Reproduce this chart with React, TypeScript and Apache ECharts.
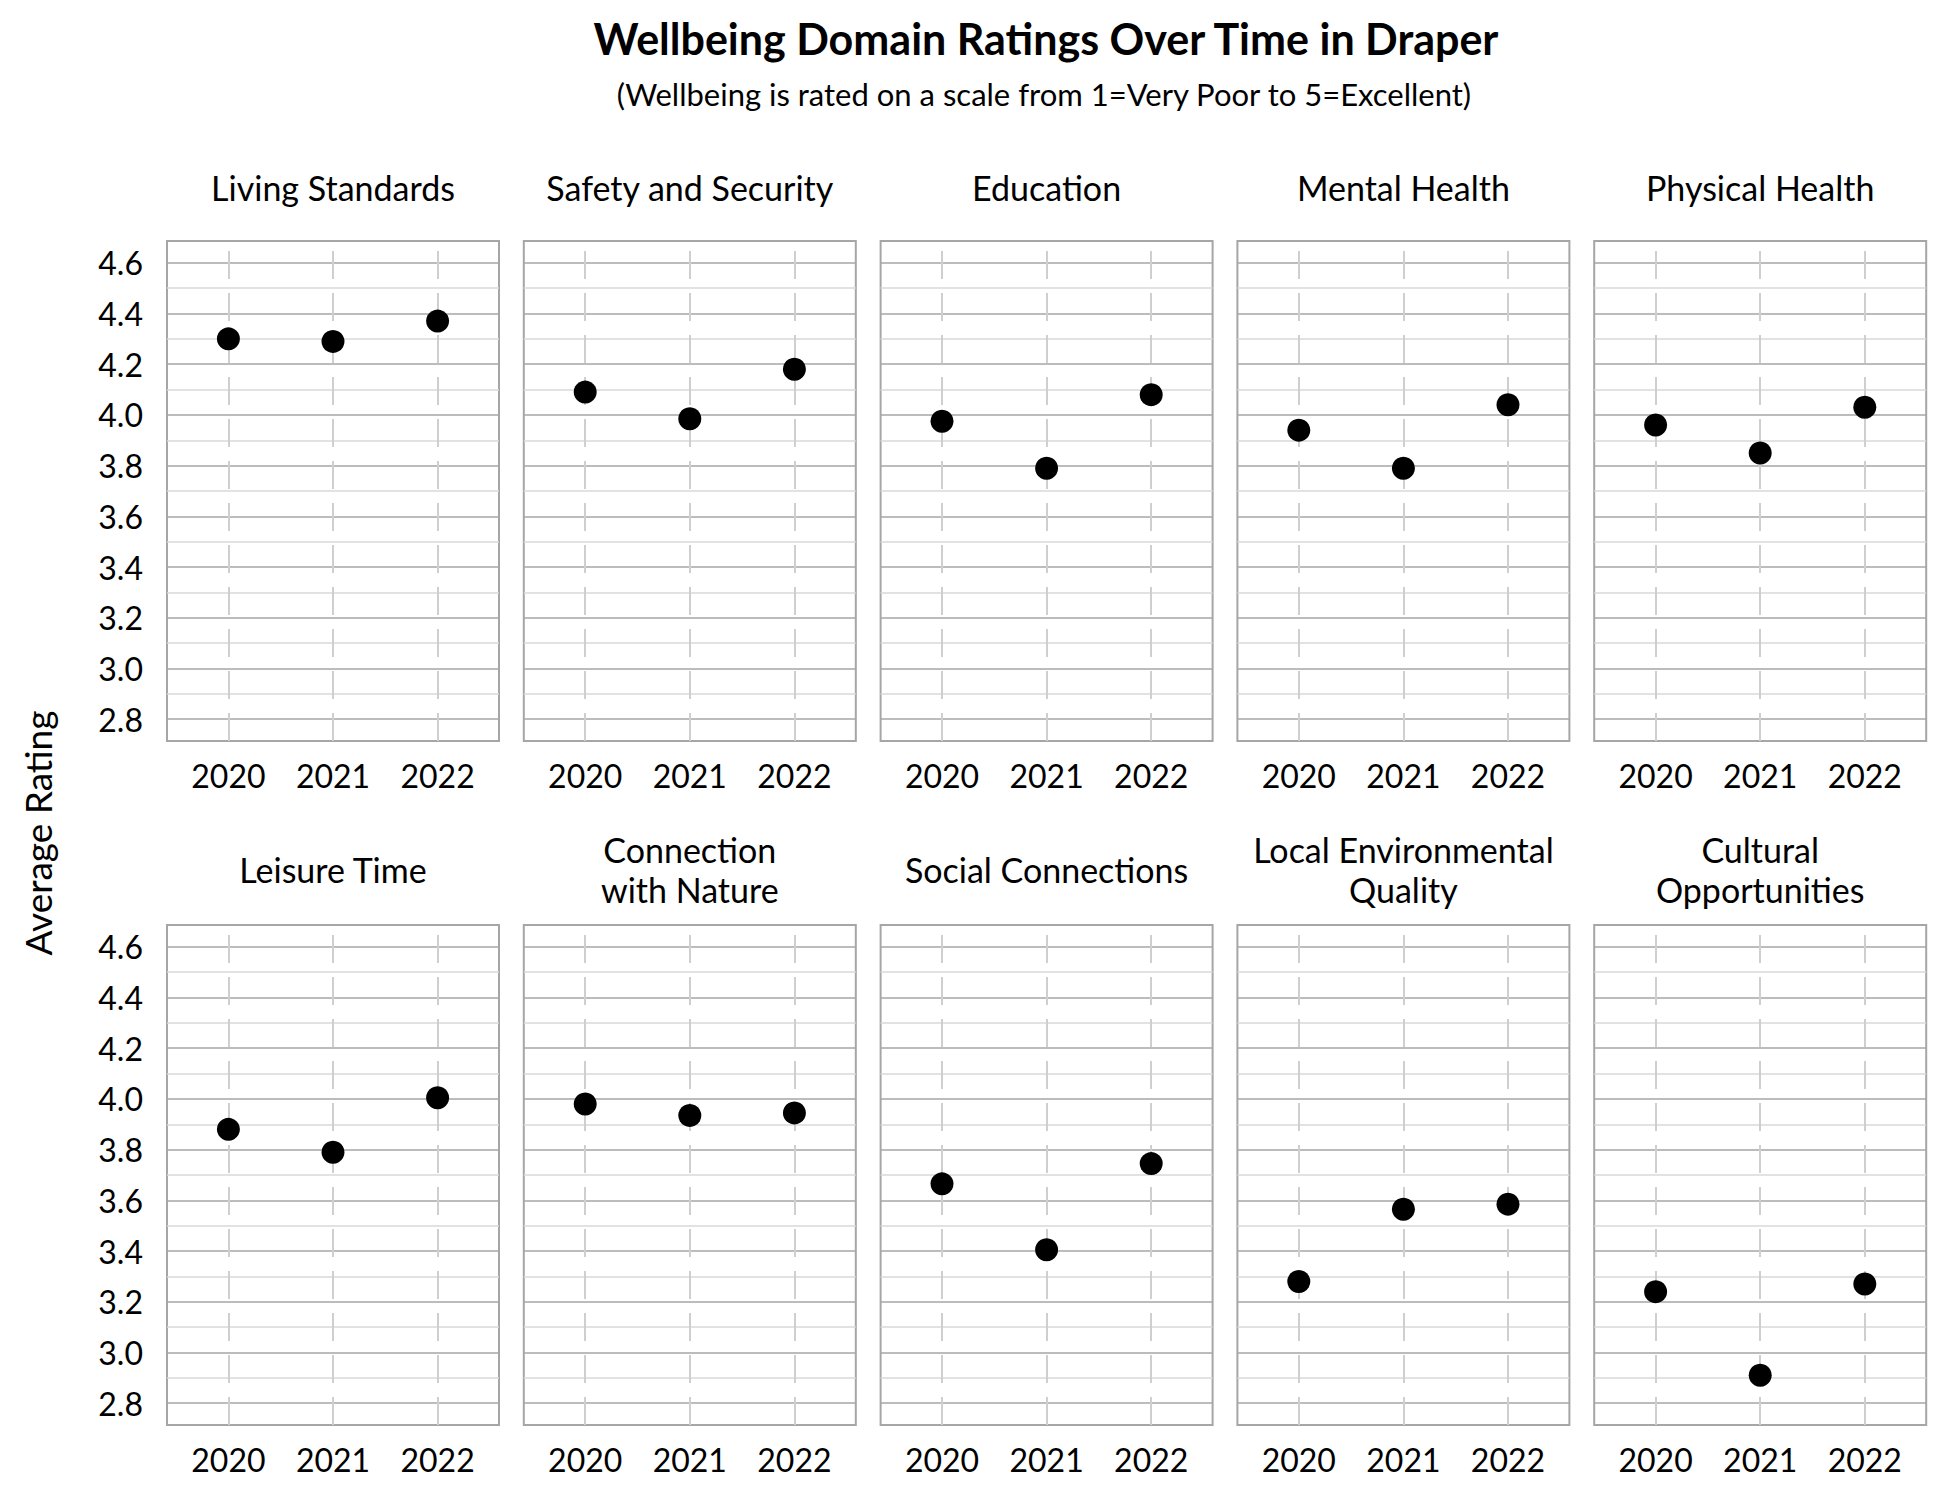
import React, { useEffect, useRef } from 'react';
import * as echarts from 'echarts';

// survey years and average ratings per wellbeing domain
const years = [2020, 2021, 2022];
const livingStandards = [4.3, 4.29, 4.37];
const safetyAndSecurity = [4.09, 3.985, 4.18];
const education = [3.975, 3.79, 4.08];
const mentalHealth = [3.94, 3.79, 4.04];
const physicalHealth = [3.96, 3.85, 4.03];
const leisureTime = [3.88, 3.79, 4.005];
const connectionWithNature = [3.98, 3.935, 3.945];
const socialConnections = [3.665, 3.405, 3.745];
const localEnvironmentalQuality = [3.28, 3.565, 3.585];
const culturalOpportunities = [3.24, 2.91, 3.27];

const domainNames = [
  'Living Standards',
  'Safety and Security',
  'Education',
  'Mental Health',
  'Physical Health',
  'Leisure Time',
  'Connection\nwith Nature',
  'Social Connections',
  'Local Environmental\nQuality',
  'Cultural\nOpportunities',
];
const domainValues = [
  livingStandards,
  safetyAndSecurity,
  education,
  mentalHealth,
  physicalHealth,
  leisureTime,
  connectionWithNature,
  socialConnections,
  localEnvironmentalQuality,
  culturalOpportunities,
];

const majorTicks = [2.8, 3.0, 3.2, 3.4, 3.6, 3.8, 4.0, 4.2, 4.4, 4.6];
const minorTicks = [2.9, 3.1, 3.3, 3.5, 3.7, 3.9, 4.1, 4.3, 4.5];

const FONT = 'Lato';
const COLS = 5;
const PANEL_LEFT = 167;
const PANEL_STEP = 356.8;
const PANEL_W = 332;
const PANEL_H = 500;
const ROW_TOP = [241, 925];

const App: React.FC = () => {
  const chartRef = useRef<HTMLDivElement>(null);

  useEffect(() => {
    if (!chartRef.current) return;
    const chart = echarts.init(chartRef.current, null, { renderer: 'svg' });

    const grid: any[] = [];
    const xAxis: any[] = [];
    const yAxis: any[] = [];
    const series: any[] = [];
    const graphic: any[] = [];

    domainNames.forEach((name, i) => {
      const row = Math.floor(i / COLS);
      const col = i % COLS;
      const left = PANEL_LEFT + col * PANEL_STEP;
      const top = ROW_TOP[row];

      grid.push({
        left,
        top,
        width: PANEL_W,
        height: PANEL_H,
        show: true,
        borderColor: '#a6a6a6',
        borderWidth: 2,
        backgroundColor: 'transparent',
      });

      xAxis.push({
        type: 'value',
        gridIndex: i,
        min: 2019.413,
        max: 2022.587,
        axisLine: { show: false },
        axisTick: { show: false },
        splitLine: { show: false },
        axisLabel: {
          customValues: years,
          formatter: (v: number) => String(v),
          color: '#000',
          fontFamily: FONT,
          fontSize: 32,
          margin: 18,
        },
      });

      yAxis.push({
        type: 'value',
        gridIndex: i,
        min: 2.714,
        max: 4.686,
        axisLine: { show: false },
        axisTick: { show: false },
        splitLine: { show: false },
        axisLabel: {
          show: col === 0,
          customValues: majorTicks,
          formatter: (v: number) => v.toFixed(1),
          color: '#000',
          fontFamily: FONT,
          fontSize: 32,
          margin: 24,
        },
      });

      // gridlines, drawn through the axes
      series.push({
        type: 'line',
        xAxisIndex: i,
        yAxisIndex: i,
        data: years.map((y, k) => [y, domainValues[i][k]]),
        showSymbol: false,
        symbol: 'none',
        lineStyle: { opacity: 0 },
        silent: true,
        z: 1,
        markLine: {
          silent: true,
          symbol: ['none', 'none'],
          label: { show: false },
          z: 1,
          data: [
            ...minorTicks.map((v) => ({ yAxis: v, lineStyle: { color: '#d9d9d9', width: 1.5, type: 'solid' } })),
            ...majorTicks.map((v) => ({ yAxis: v, lineStyle: { color: '#a6a6a6', width: 1.5, type: 'solid' } })),
            ...years.map((y) => ({ xAxis: y, lineStyle: { color: '#cfcfcf', width: 2, type: [28, 14] } })),
          ],
        },
      });

      series.push({
        type: 'scatter',
        name,
        xAxisIndex: i,
        yAxisIndex: i,
        data: years.map((y, k) => [y, domainValues[i][k]]),
        symbol: 'circle',
        symbolSize: 23,
        itemStyle: { color: '#000', opacity: 1 },
        z: 3,
      });

      graphic.push({
        type: 'text',
        x: left + PANEL_W / 2,
        y: row === 0 ? 187 : 869,
        style: {
          text: name,
          font: `34px ${FONT}`,
          fill: '#000',
          textAlign: 'center',
          textVerticalAlign: 'middle',
          lineHeight: 40,
        },
      });
    });

    graphic.push(
      {
        type: 'text',
        x: 1046,
        y: 38,
        style: {
          text: 'Wellbeing Domain Ratings Over Time in Draper',
          font: `bold 43px ${FONT}`,
          fill: '#000',
          textAlign: 'center',
          textVerticalAlign: 'middle',
        },
      },
      {
        type: 'text',
        x: 1044,
        y: 94,
        style: {
          text: '(Wellbeing is rated on a scale from 1=Very Poor to 5=Excellent)',
          font: `31px ${FONT}`,
          fill: '#000',
          textAlign: 'center',
          textVerticalAlign: 'middle',
        },
      },
      {
        type: 'text',
        x: 37,
        y: 833,
        rotation: Math.PI / 2,
        style: {
          text: 'Average Rating',
          font: `37px ${FONT}`,
          fill: '#000',
          textAlign: 'center',
          textVerticalAlign: 'middle',
        },
      }
    );

    chart.setOption({
      animation: false,
      backgroundColor: '#fff',
      grid,
      xAxis,
      yAxis,
      series,
      graphic,
    });

    return () => {
      chart.dispose();
    };
  }, []);

  return (
    <div
      ref={chartRef}
      style={{ position: 'absolute', left: 0, top: 0, width: '1950px', height: '1500px' }}
    ></div>
  );
};

export default App;
